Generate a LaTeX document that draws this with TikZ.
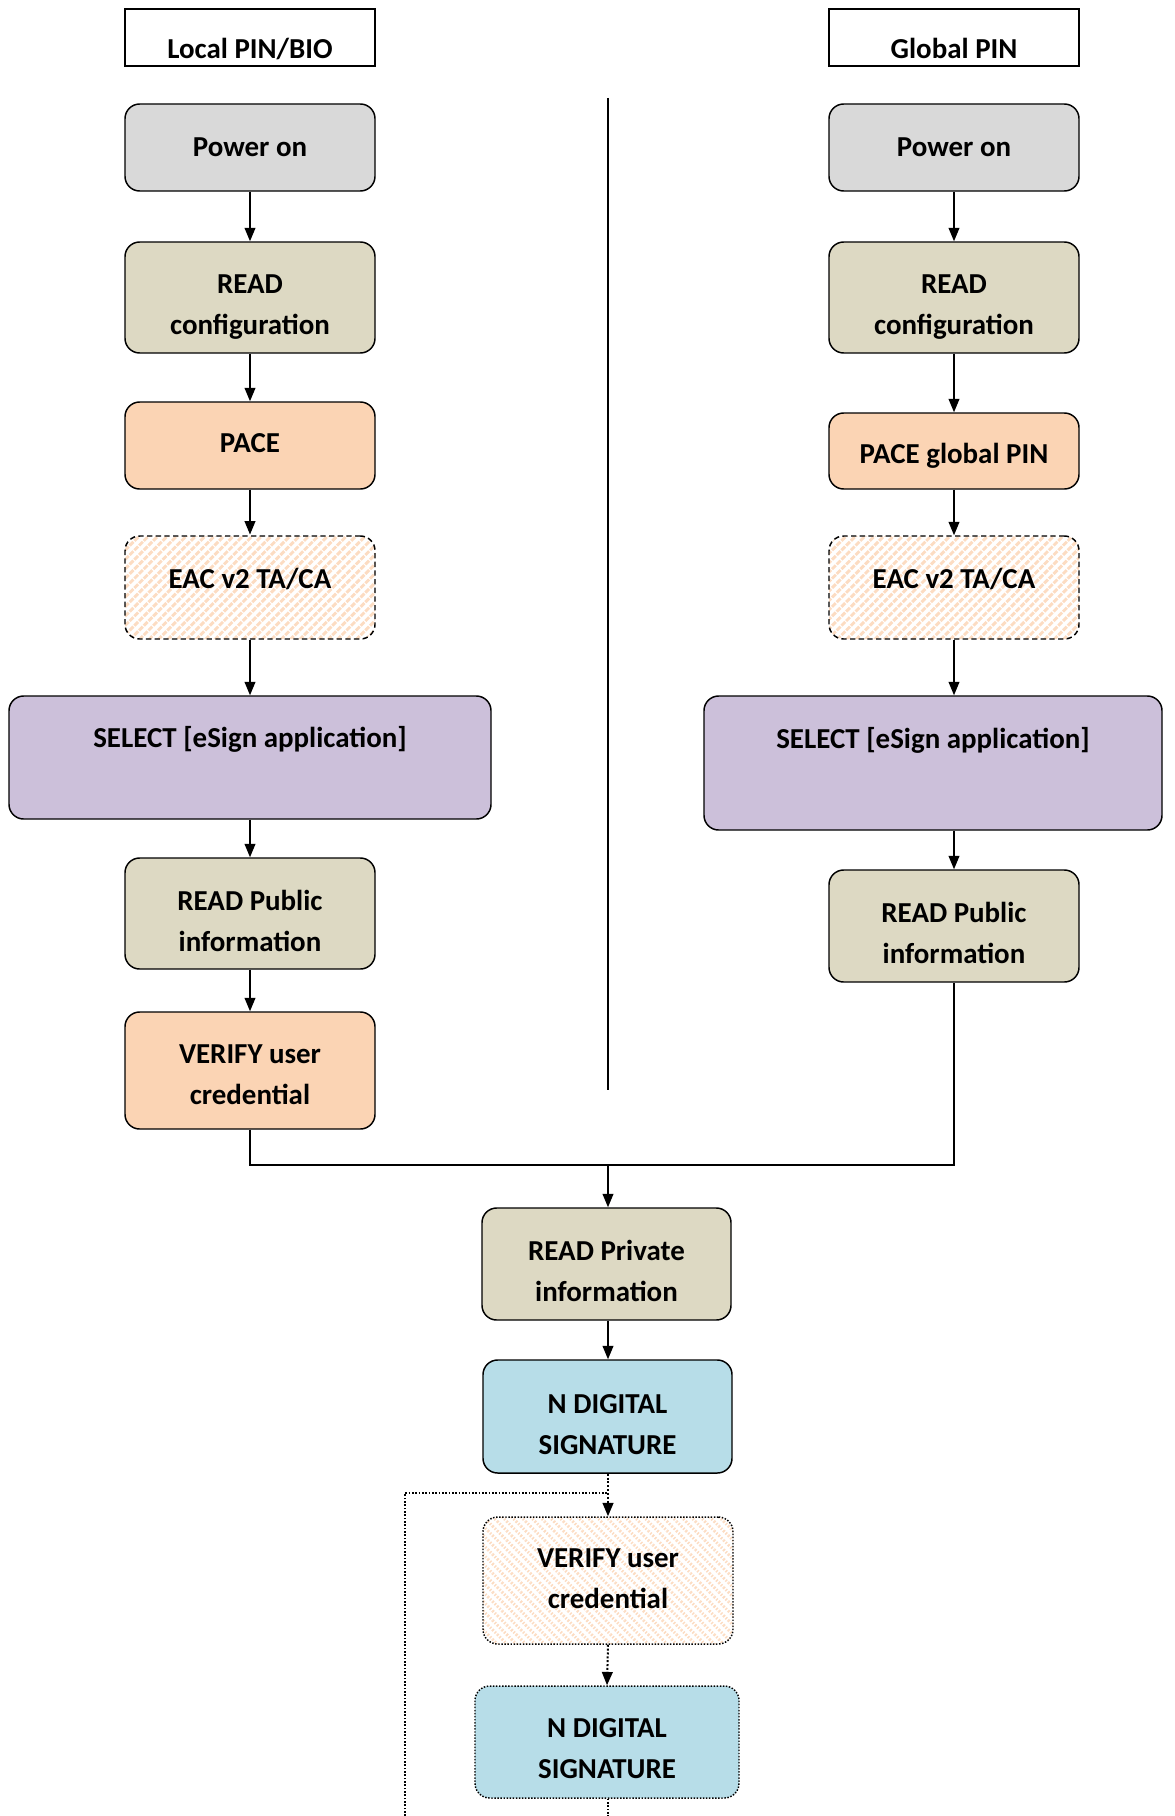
\documentclass[tikz,border=0pt]{standalone}
\usepackage{fontspec}
\setmainfont{Carlito}
\usetikzlibrary{arrows.meta,patterns.meta}
\definecolor{cgray}{HTML}{D9D9D9}
\definecolor{cread}{HTML}{DDD9C3}
\definecolor{cpace}{HTML}{FBD4B4}
\definecolor{csel}{HTML}{CCC0DA}
\definecolor{csig}{HTML}{B7DDE8}
\definecolor{chatch}{HTML}{FCDCC2}
\newcommand\twolx[4]{\rule[-#2]{0pt}{#1}#3\\\rule[-#2]{0pt}{#1}#4}
\newcommand\twol[2]{\twolx{29.2pt}{1.5pt}{#1}{#2}}
\newcommand\lift[2]{\raisebox{#1}[\height][\depth]{#2}}
\tikzset{
  box/.style={draw, line width=1.1pt, rounded corners=11pt, align=center, inner sep=0pt,
    minimum width=187.5pt, font=\bfseries\fontsize{21.7}{30.75}\selectfont},
  hdr/.style={draw, line width=1pt, minimum width=187.5pt, minimum height=42.75pt, inner sep=0pt},
  hdrtxt/.style={anchor=base, inner sep=0pt, font=\bfseries\fontsize{21.7}{30.75}\selectfont},
  hatchA/.style={pattern={Lines[angle=45,distance=5pt,line width=2.2pt]}, pattern color=chatch},
  hatchB/.style={pattern={Lines[angle=-45,distance=5pt,line width=2.2pt]}, pattern color=chatch},
  dashedbox/.style={dash pattern=on 4pt off 2.5pt},
  dottedbox/.style={line width=1.1pt, dash pattern=on 1.1pt off 1.2pt},
  conn/.style={line width=1.2pt},
  arr/.style={conn, -{Triangle[length=10pt,width=8pt]}},
  darr/.style={line width=1.5pt, dash pattern=on 1.5pt off 1.4pt, -{Triangle[length=10pt,width=8pt]}},
  dline/.style={line width=1.2pt, dash pattern=on 1.2pt off 1.3pt},
}
\begin{document}
\begin{tikzpicture}[x=0.75pt,y=-0.75pt]
\useasboundingbox (0,0) rectangle (1174,1816);
% headers
\node[hdr] (hL) at (250,37.5) {};
\node[hdrtxt] (hLt) at (250,58.5) {Local PIN/BIO};
\node[hdr] (hR) at (954,37.5) {};
\node[hdrtxt] (hRt) at (954,58.5) {Global PIN};
% divider
\coordinate (dv1) at (608,98);
\coordinate (dv2) at (608,1090);
\draw[line width=1.2pt] (dv1) -- (dv2);
% left column
\node[box, fill=cgray, minimum height=65.25pt] (pwrL) at (250,147.5) {Power on};
\node[box, fill=cread, minimum height=83.25pt] (rcL) at (250,297.5) {\twol{READ}{configuration}};
\node[box, fill=cpace, minimum height=65.25pt] (paceL) at (250,445.5) {\lift{1.5pt}{PACE}};
\node[box, hatchA, dashedbox, minimum height=77.25pt] (eacL) at (250,587.5) {\lift{6pt}{EAC v2 TA/CA}};
\node[box, fill=csel, minimum width=361.5pt, minimum height=92.25pt] (selL) at (250,757.5) {\twolx{25.7pt}{5pt}{SELECT [eSign application]}{}};
\node[box, fill=cread, minimum height=83.25pt] (rpL) at (250,913.5) {\twol{READ Public}{information}};
\node[box, fill=cpace, minimum height=87.75pt] (verL) at (250,1070.5) {\twolx{27.2pt}{3.5pt}{VERIFY user}{credential}};
% right column
\node[box, fill=cgray, minimum height=65.25pt] (pwrR) at (954,147.5) {Power on};
\node[box, fill=cread, minimum height=83.25pt] (rcR) at (954,297.5) {\twol{READ}{configuration}};
\node[box, fill=cpace, minimum height=57pt] (paceR) at (954,451) {\lift{-3.5pt}{PACE global PIN}};
\node[box, hatchA, dashedbox, minimum height=77.25pt] (eacR) at (954,587.5) {\lift{6pt}{EAC v2 TA/CA}};
\node[box, fill=csel, minimum width=343.5pt, minimum height=100.5pt] (selR) at (933,763) {\twolx{23.2pt}{7.5pt}{SELECT [eSign application]}{}};
\node[box, fill=cread, minimum height=84pt] (rpR) at (954,926) {\twol{READ Public}{information}};
% centre
\node[box, fill=cread, minimum width=186.75pt, minimum height=84pt] (rpC) at (606.5,1264) {\twol{READ Private}{information}};
\node[box, fill=csig, minimum width=186.75pt, minimum height=84.75pt] (nd1) at (607.5,1416.5) {\twol{N DIGITAL}{SIGNATURE}};
\node[box, hatchB, dottedbox, minimum height=95.25pt] (ver2) at (608,1580.5) {\twolx{24.4pt}{6.3pt}{VERIFY user}{credential}};
\node[box, fill=csig, dottedbox, minimum width=198pt, minimum height=84pt] (nd2) at (607,1742) {\twolx{28.7pt}{2pt}{N DIGITAL}{SIGNATURE}};
% left arrows
\draw[arr] (pwrL.south) -- (rcL.north);
\draw[arr] (rcL.south) -- (paceL.north);
\draw[arr] (paceL.south) -- (eacL.north);
\draw[arr] (eacL.south) -- (selL.north);
\draw[arr] (selL.south) -- (rpL.north);
\draw[arr] (rpL.south) -- (verL.north);
% right arrows
\draw[arr] (pwrR.south) -- (rcR.north);
\draw[arr] (rcR.south) -- (paceR.north);
\draw[arr] (paceR.south) -- (eacR.north);
\draw[arr] (eacR.south) -- (eacR.south |- selR.north);
\draw[arr] (selR.south -| rpR.north) -- (rpR.north);
% merge
\coordinate (mj) at (608,1165);
\draw[conn] (verL.south) |- (mj) -| (rpR.south);
\draw[arr] (mj) -- (mj |- rpC.north);
\draw[arr] (rpC.south -| mj) -- (mj |- nd1.north);
% dotted part
\coordinate (lj) at (608,1493);
\coordinate (lb) at (405,1816);
\coordinate (eb) at (608,1816);
\draw[darr] (nd1.south -| lj) -- (lj |- ver2.north);
\draw[dline] (lb) |- (lj);
\draw[darr] (ver2.south) -- (nd2.north);
\draw[dline] (nd2.south -| eb) -- (eb);
\end{tikzpicture}
\end{document}
